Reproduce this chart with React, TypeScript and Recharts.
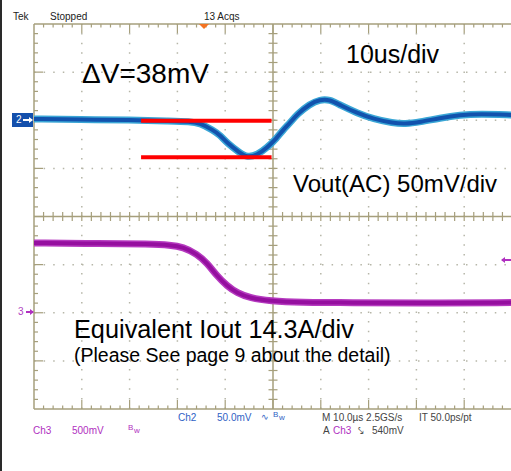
import React from 'react'
import { ComposedChart, Line, XAxis, YAxis, ReferenceLine } from 'recharts'

// horizontal: 10 divisions of 10 us (0..100 us), vertical: 8 divisions
const timeTicks = [0, 10, 20, 30, 40, 50, 60, 70, 80, 90, 100]
const divTicks = [-4, -3, -2, -1, 0, 1, 2, 3, 4]

// Ch2: Vout (AC), 50 mV/div, marker at +2 div
const CH2_POS = 2
const CH2_SCALE = 50
const ch2Time = [0, 9.6, 20.1, 28.5, 32.6, 34.7, 37.4, 38.9, 40.4, 43.1, 44.6, 46.7, 48.7, 50.8, 52.1, 53.6, 55.0, 57.7, 59.8, 61.9, 64.0, 67.6, 71.0, 75.1, 77.6, 80.8, 84.9, 89.1, 93.3, 100]
const ch2Mv = [1.3, 0.8, 0.3, -0.8, -1.3, -2.9, -10.1, -15.3, -23.6, -34.0, -38.6, -36.1, -28.8, -18.4, -10.1, -2.5, 6.0, 16.9, 21.5, 21.5, 15.8, 7.5, 1.3, -2.9, -3.9, -1.8, 2.3, 5.5, 6.5, 5.5]

// Ch3: load current sense, 500 mV/div, marker at -2 div
const CH3_POS = -2
const CH3_SCALE = 500
const ch3Time = [0, 13.8, 24.3, 28.5, 31.2, 34.1, 36.2, 38.3, 40.4, 42.5, 45.2, 49.4, 55.6, 66.1, 80.8, 100]
const ch3Mv = [725, 719, 714, 704, 683, 610, 517, 382, 278, 205, 153, 122, 106, 106, 100, 106]

// ΔV cursors (red)
const cursorTime = [22.4, 49.7]
const cursorMv = [-0.5, -38.5]

const ch2 = ch2Time.map((t, i) => ({ t, v: ch2Mv[i] }))
const ch3 = ch3Time.map((t, i) => ({ t, v: ch3Mv[i] }))
const cursTop = cursorTime.map((t) => ({ t, v: cursorMv[0] }))
const cursBot = cursorTime.map((t) => ({ t, v: cursorMv[1] }))

const ch2Y = (d: { v: number }) => CH2_POS + d.v / CH2_SCALE
const ch3Y = (d: { v: number }) => CH3_POS + d.v / CH3_SCALE

const GRAT = '#a69f7c'
const DOTS = '#b6b6a8'
const PX_X = 100 / 478
const PX_Y = 8 / 385

function graticuleTicks() {
  const out: any[] = []
  const xs = Array.from({ length: 51 }, (_, i) => i * 2)
  const ys = Array.from({ length: 41 }, (_, i) => Math.round((-4 + i * 0.2) * 10) / 10)
  xs.forEach((x) => {
    if (x === 0 || x === 100) return
    const major = x % 10 === 0
    const len = (major ? 9 : 3.5) * PX_Y
    out.push([{ x, y: 4 }, { x, y: 4 - len }])
    out.push([{ x, y: -4 }, { x, y: -4 + len }])
    if (x !== 50) out.push([{ x, y: -4.5 * PX_Y }, { x, y: 4.5 * PX_Y }])
  })
  ys.forEach((y) => {
    if (y === 4 || y === -4) return
    const major = Number.isInteger(y)
    const len = (major ? 9 : 4) * PX_X
    out.push([{ x: 0, y }, { x: len, y }])
    if (y !== 0) out.push([{ x: 50 - 4.5 * PX_X, y }, { x: 50 + 4.5 * PX_X, y }])
  })
  return out
}

const txt = (left: number, top: number, size: number, color: string, s: string, extra: any = {}) => (
  <div style={{ position: 'absolute', left, top, fontSize: size, lineHeight: 1, color, whiteSpace: 'nowrap', ...extra }}>{s}</div>
)

// small marker arrow drawn with css (dir: 1 = points right, -1 = points left)
const arrow = (left: number, y: number, len: number, dir: number, color: string) => (
  <div style={{ position: 'absolute', left, top: y - 3, width: len, height: 6 }}>
    <div style={{ position: 'absolute', left: 0, top: 2, width: len, height: 2, background: color }} />
    <div style={{
      position: 'absolute', top: 0, width: 0, height: 0,
      borderTop: '3px solid transparent', borderBottom: '3px solid transparent',
      ...(dir > 0 ? { right: -1, borderLeft: '4px solid ' + color } : { left: -1, borderRight: '4px solid ' + color }),
    }} />
  </div>
)

export default function App() {
  const ticks = graticuleTicks()
  return (
    <div style={{ position: 'absolute', left: 0, top: 0, width: 511, height: 471, overflow: 'hidden', background: '#fff', fontFamily: '"Liberation Sans", Arial, sans-serif' }}>
      <ComposedChart width={512} height={471} margin={{ top: 24, right: 0, bottom: 62, left: 34 }}>
        <XAxis type="number" dataKey="t" domain={[0, 100]} ticks={timeTicks} height={0} tick={false} tickLine={false} axisLine={false} allowDataOverflow />
        <YAxis type="number" domain={[-4, 4]} ticks={divTicks} width={0} tick={false} tickLine={false} axisLine={false} allowDataOverflow />
        {timeTicks.filter((t) => t !== 0 && t !== 50 && t !== 100).map((t) => (
          <ReferenceLine key={'gx' + t} x={t} stroke={DOTS} strokeWidth={1.5} strokeDasharray="1.5 8.1" ifOverflow="visible" />
        ))}
        {divTicks.filter((d) => d !== 0 && Math.abs(d) !== 4).map((d) => (
          <ReferenceLine key={'gy' + d} y={d} stroke={DOTS} strokeWidth={1.5} strokeDasharray="1.5 8.1" ifOverflow="visible" />
        ))}
        <ReferenceLine x={0} stroke={GRAT} strokeWidth={1.5} ifOverflow="visible" />
        <ReferenceLine y={4} stroke={GRAT} strokeWidth={1.5} ifOverflow="visible" />
        <ReferenceLine y={-4} stroke={GRAT} strokeWidth={1.5} ifOverflow="visible" />
        <ReferenceLine x={50} stroke={GRAT} strokeWidth={1.5} ifOverflow="visible" />
        <ReferenceLine y={0} stroke={GRAT} strokeWidth={1.5} ifOverflow="visible" />
        {ticks.map((seg, i) => (
          <ReferenceLine key={i} segment={seg} stroke={GRAT} strokeWidth={1.2} ifOverflow="visible" />
        ))}
        <Line data={ch2} dataKey={ch2Y} type="basis" stroke="#3aa6d6" strokeWidth={7} dot={false} isAnimationActive={false} />
        <Line data={ch2} dataKey={ch2Y} type="basis" stroke="#1252ad" strokeWidth={4} dot={false} isAnimationActive={false} />
        <Line data={ch3} dataKey={ch3Y} type="basis" stroke="#b53abf" strokeWidth={7} dot={false} isAnimationActive={false} />
        <Line data={ch3} dataKey={ch3Y} type="basis" stroke="#950f9f" strokeWidth={4} dot={false} isAnimationActive={false} />
        <Line data={cursTop} dataKey={ch2Y} stroke="#ff0000" strokeWidth={4} dot={false} isAnimationActive={false} />
        <Line data={cursBot} dataKey={ch2Y} stroke="#ff0000" strokeWidth={4} dot={false} isAnimationActive={false} />
      </ComposedChart>

      <div style={{ position: 'absolute', left: 0, top: 0, width: 2, height: 471, background: '#2a2a2a' }} />

      {txt(13, 12, 10, '#222', 'Tek')}
      {txt(50, 12, 10, '#222', 'Stopped')}
      {txt(204, 12, 10, '#222', '13 Acqs')}
      <div style={{ position: 'absolute', left: 199, top: 24, width: 0, height: 0, borderLeft: '5px solid transparent', borderRight: '5px solid transparent', borderTop: '5px solid #f47321' }} />

      <div style={{ position: 'absolute', left: 12, top: 113, width: 21, height: 14, background: '#1450ac', color: '#fff', fontSize: 10, lineHeight: '14px' }}>
        <span style={{ marginLeft: 4 }}>2</span>
      </div>
      {arrow(23, 120, 9, 1, '#ffffff')}
      {txt(18, 307, 10, '#b040c0', '3')}
      {arrow(26, 312, 7, 1, '#b030c0')}
      {arrow(502, 260, 9, -1, '#b030c0')}

      {txt(82, 60, 28, '#000', 'ΔV=38mV')}
      {txt(346, 42, 25, '#000', '10us/div')}
      {txt(293, 172, 24, '#000', 'Vout(AC) 50mV/div')}
      {txt(74, 317, 25.3, '#000', 'Equivalent Iout 14.3A/div')}
      {txt(74, 346, 19.5, '#000', '(Please See page 9 about the detail)')}

      {txt(178, 413, 10, '#2f62c4', 'Ch2')}
      {txt(217, 413, 10, '#2f62c4', '50.0mV')}
      {txt(261, 413, 9, '#2f62c4', '∿')}
      {txt(273, 411, 8, '#2f62c4', 'B')}
      {txt(279, 414, 8, '#2f62c4', 'w')}
      {txt(322, 413, 10, '#444', 'M 10.0µs 2.5GS/s')}
      {txt(419, 413, 10, '#444', 'IT 50.0ps/pt')}

      {txt(33, 426, 10, '#b030c0', 'Ch3')}
      {txt(72, 426, 10, '#b030c0', '500mV')}
      {txt(128, 424, 8, '#b030c0', 'B')}
      {txt(134, 427, 8, '#b030c0', 'w')}
      {txt(323, 426, 10, '#444', 'A')}
      {txt(333, 426, 10, '#b030c0', 'Ch3')}
      {txt(358, 426, 10, '#444', '⤥')}
      {txt(372, 426, 10, '#444', '540mV')}
    </div>
  )
}
